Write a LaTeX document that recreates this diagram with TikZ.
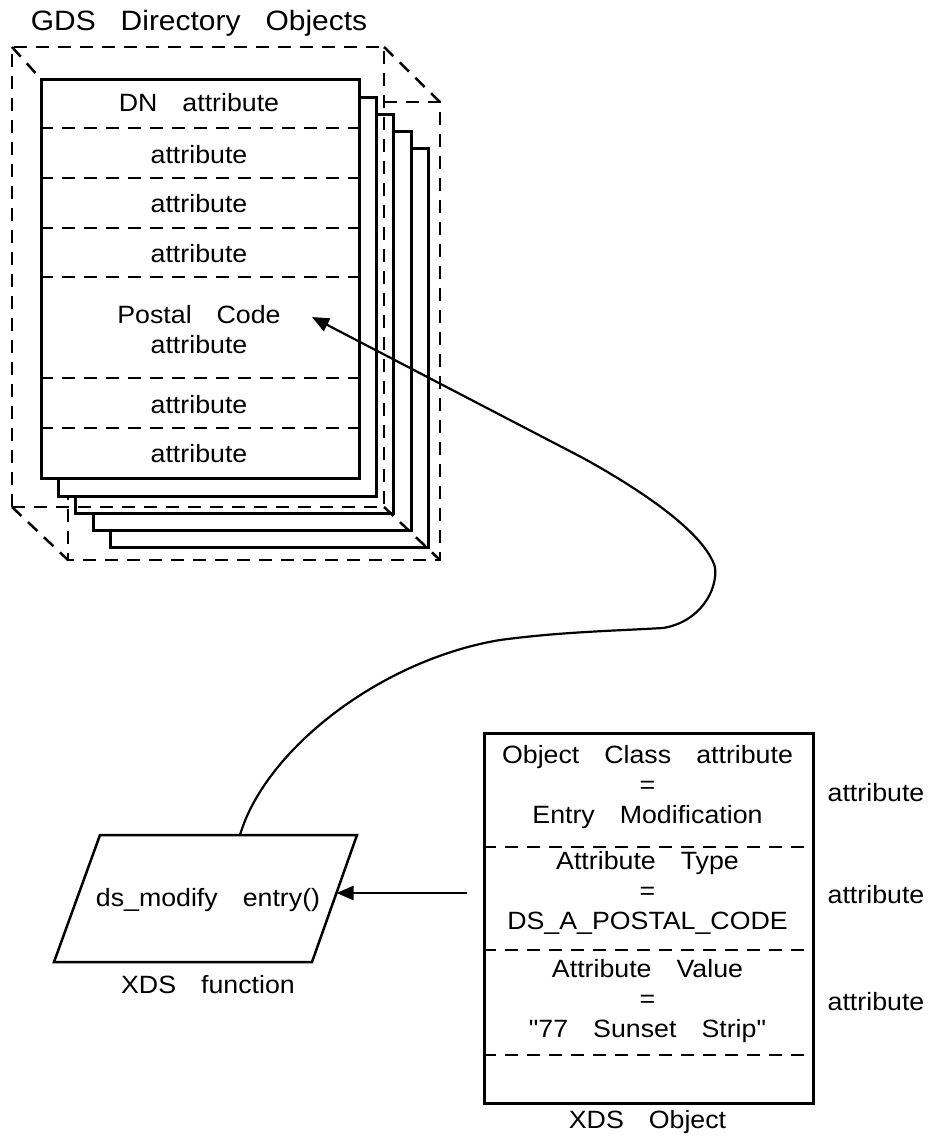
\documentclass[tikz,border=0pt]{standalone}
\usepackage{fontspec}
\setmainfont{Liberation Sans}[FakeStretch=1.07]
\newfontfamily\nomap{Liberation Sans}[FakeStretch=1.07, Ligatures=TeXOff]
\usetikzlibrary{arrows.meta}
\newcommand\gp{\hspace{25pt}}
\newcommand\dq{{\nomap"}}
\begin{document}
\begin{tikzpicture}[x=1pt,y=-1pt,
  txt/.style={font=\fontsize{25}{30}\selectfont, align=center, inner sep=0pt},
  ttl/.style={font=\fontsize{28}{32}\selectfont, inner sep=0pt},
  card/.style={draw, line width=2.5pt, fill=white, anchor=north west, inner sep=0pt, minimum width=318pt, minimum height=399pt},
  dsh/.style={line width=2.5pt, dash pattern=on 13pt off 9pt},
  solid2/.style={line width=2.5pt},
  arr/.style={line width=2.2pt, -{Triangle[length=17pt,width=14pt]}}
]
\useasboundingbox (0,0) rectangle (931,1141);

% title
\node[ttl] (title) at (199,23) {GDS\gp Directory\gp Objects};

% stack of cards
\node[card] (c4) at (109,147) {};
\node[card] (c3) at (92,130) {};
\node[card] (c2) at (74,113) {};
\node[card] (c1) at (57,96) {};
\node[card] (c0) at (40,78) {};

% dividers in main card
\foreach \yy in {128,178,228,277,378,428}
  \draw[dsh] (c0.west |- 0,\yy) -- (c0.east |- 0,\yy);

% texts in main card
\node[txt] (t1) at (199,103) {DN\gp attribute};
\node[txt] (t2) at (199,155) {attribute};
\node[txt] (t3) at (199,204) {attribute};
\node[txt] (t4) at (199,254) {attribute};
\node[txt] (t5) at (199,330) {Postal\gp Code\\attribute};
\node[txt] (t6) at (199,405) {attribute};
\node[txt] (t7) at (199,454) {attribute};

% dashed bounding box (perspective)
\coordinate (bTL) at (12,47);
\coordinate (bTR) at (384,47);
\coordinate (bBL) at (12,507);
\coordinate (bBR) at (384,507);
\coordinate (fTL) at (68,102);
\coordinate (fTR) at (440,102);
\coordinate (fBL) at (68,560);
\coordinate (fBR) at (440,560);
\draw[dsh] (bBL) -- (bTL) -- (bTR) -- (bBR);
\draw[dsh] (bBL) -- (bBR);
\draw[dsh] (bTL) -- (c0.north west);
\draw[dsh] (bTR) -- (fTR);
\draw[dsh] (bBL) -- (fBL);
\draw[dsh] (bBR) -- (fBR);
\draw[dsh] (bTR |- fTR) -- (fTR) -- (fBR) -- (fBL) -- (fBL |- c1.south);

% parallelogram (XDS function)
\coordinate (pTL) at (100,835);
\coordinate (pTR) at (357,835);
\coordinate (pBR) at (312,962);
\coordinate (pBL) at (54,962);
\draw[solid2, line join=miter] (pTL) -- (pTR) -- (pBR) -- (pBL) -- cycle;
\node[txt] (fn) at (208,900) {ds\_modify\gp entry()};
\node[txt] (fnlbl) at (208,985) {XDS\gp function};
\coordinate (ptop) at (240,835);
\coordinate (pright) at (336.5,893);

% XDS object box
\node[draw, line width=2.5pt, anchor=north west, inner sep=0pt, minimum width=329pt, minimum height=370pt] (xbox) at (483,732) {};
\foreach \yy in {847,950,1055}
  \draw[dsh] (xbox.west |- 0,\yy) -- (xbox.east |- 0,\yy);
\node[txt] (o1) at (647.5,787) {Object\gp Class\gp attribute\\=\\Entry\gp Modification};
\node[txt] (o2) at (647.5,893) {Attribute\gp Type\\=\\DS\_A\_POSTAL\_CODE};
\node[txt] (o3) at (647.5,1001) {Attribute\gp Value\\=\\\dq 77\gp Sunset\gp Strip\dq};
\node[txt] (olbl) at (647.5,1122) {XDS\gp Object};
\node[txt] (a1) at (876,793) {attribute};
\node[txt] (a2) at (876,895) {attribute};
\node[txt] (a3) at (876,1002) {attribute};

% connectors
\coordinate (pctip) at (312,317);
\draw[arr, shorten <=16pt] (xbox.west |- pright) -- (pright);
\draw[arr] (ptop) .. controls (265,750) and (380,660) .. (500,640)
  .. controls (560,632) and (610,631) .. (663,628)
  .. controls (700,622) and (718,590) .. (715,567)
  .. controls (705,535) and (650,495) .. (583,458)
  -- (pctip);
\end{tikzpicture}
\end{document}
